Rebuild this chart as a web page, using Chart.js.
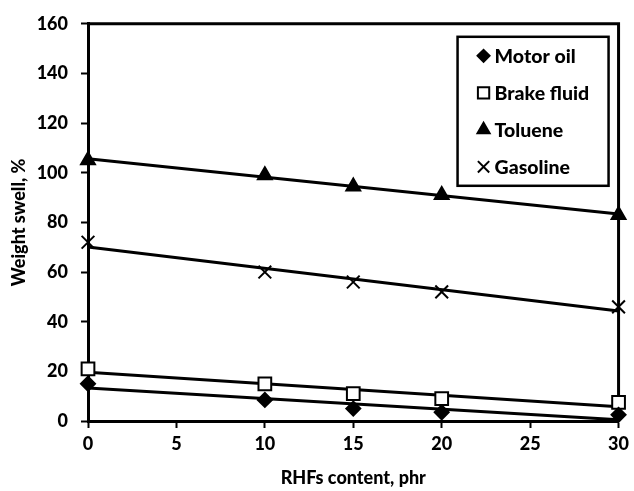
<!DOCTYPE html>
<html>
<head>
<meta charset="utf-8">
<script src="https://cdn.jsdelivr.net/npm/chart.js@4"></script>
<style>
  html, body { margin: 0; padding: 0; background: #fff; }
  #wrap { width: 634px; height: 491px; }
</style>
</head>
<body>
<div id="wrap"><canvas id="swellChart"></canvas></div>
<script>
// RHFs loading (phr) and weight swell (%) for each fluid
const rhfContent = [0, 10, 15, 20, 30];
const motorOil = [15, 8.5, 5, 3.5, 2.5];
const brakeFluid = [21, 15, 11, 9, 7.5];
const toluene = [105, 99, 94.5, 91, 83];
const gasoline = [72, 60, 56, 52, 46];
const yTicks = [0, 20, 40, 60, 80, 100, 120, 140, 160];
const xTicks = [0, 5, 10, 15, 20, 25, 30];

const fonts = 'Lato, "Open Sans", sans-serif';
const labelFont = { family: fonts, size: 18, weight: 900 };

// least squares line over the data
function trend(ys) {
    const n = rhfContent.length;
    const mx = rhfContent.reduce((a, b) => a + b, 0) / n;
    const my = ys.reduce((a, b) => a + b, 0) / n;
    let sxy = 0, sxx = 0;
    rhfContent.forEach((x, i) => { sxy += (x - mx) * (ys[i] - my); sxx += (x - mx) * (x - mx); });
    const k = sxy / sxx;
    const x0 = rhfContent[0], x1 = rhfContent[n - 1];
    return [{ x: x0, y: my + k * (x0 - mx) }, { x: x1, y: my + k * (x1 - mx) }];
}

const series = [
    { label: 'Motor oil', data: motorOil, style: 'rectRot', radius: 7, fill: '#000' },
    { label: 'Brake fluid', data: brakeFluid, style: 'rect', radius: 9, fill: '#fff' },
    { label: 'Toluene', data: toluene, style: 'triangle', radius: 8, fill: '#000' },
    { label: 'Gasoline', data: gasoline, style: 'crossRot', radius: 9, fill: '#000' }
];

const datasets = [];
series.forEach(s => {
    datasets.push({
        label: s.label + ' trend',
        data: trend(s.data),
        showLine: true,
        borderColor: '#000',
        borderWidth: 3,
        pointRadius: 0,
        clip: false,
        order: 2
    });
});
series.forEach(s => {
    datasets.push({
        label: s.label,
        data: s.data.map((v, i) => ({ x: rhfContent[i], y: v })),
        showLine: false,
        pointStyle: s.style,
        pointRadius: s.radius,
        pointBackgroundColor: s.fill,
        pointBorderColor: '#000',
        pointBorderWidth: 2,
        clip: false,
        order: 1
    });
});

// frame around the plot plus the boxed legend
const framePlugin = {
    id: 'frame',
    beforeDatasetsDraw(chart) {
        const { ctx, chartArea: a } = chart;
        ctx.save();
        ctx.strokeStyle = '#000';
        ctx.lineWidth = 3;
        ctx.beginPath();
        ctx.moveTo(a.left, a.top);
        ctx.lineTo(a.right, a.top);
        ctx.lineTo(a.right, a.bottom);
        ctx.stroke();
        ctx.restore();
    },
    afterDatasetsDraw(chart) {
        const { ctx, chartArea: a } = chart;
        ctx.save();
        const bx = a.right - 161, by = a.top + 13, bw = 151, bh = 149;
        ctx.fillStyle = '#fff';
        ctx.fillRect(bx, by, bw, bh);
        ctx.strokeStyle = '#000';
        ctx.lineWidth = 2.5;
        ctx.strokeRect(bx, by, bw, bh);
        ctx.font = '900 19.5px ' + fonts;
        ctx.textBaseline = 'middle';
        series.forEach((s, i) => {
            const y = by + 19 + i * 37;
            ctx.fillStyle = s.fill;
            ctx.strokeStyle = '#000';
            ctx.lineWidth = 2;
            Chart.helpers.drawPoint(ctx, { pointStyle: s.style, radius: s.radius - 1, rotation: 0, borderWidth: 2 }, bx + 26, y);
            ctx.fillStyle = '#000';
            ctx.fillText(s.label, bx + 37, y + 1);
        });
        ctx.restore();
    }
};

new Chart(document.getElementById('swellChart'), {
    type: 'scatter',
    data: { datasets: datasets },
    options: {
        responsive: true,
        maintainAspectRatio: false,
        animation: false,
        layout: { padding: { top: 20, right: 14, left: 0, bottom: 0 } },
        plugins: { legend: { display: false }, tooltip: { enabled: false } },
        scales: {
            x: {
                type: 'linear',
                min: 0, max: 30,
                afterBuildTicks: s => { s.ticks = xTicks.map(v => ({ value: v })); },
                afterFit: s => { s.height = 70; },
                grid: { drawOnChartArea: false, tickLength: 7, tickWidth: 2, tickColor: '#000' },
                border: { color: '#000', width: 3 },
                ticks: { color: '#000', font: labelFont, padding: 5, maxRotation: 0 },
                title: { display: true, text: 'RHFs content, phr', color: '#000', font: labelFont, padding: { top: 0, bottom: 2 } }
            },
            y: {
                min: 0, max: 160,
                afterBuildTicks: s => { s.ticks = yTicks.map(v => ({ value: v })); },
                afterFit: s => { s.width = 88; },
                grid: { drawOnChartArea: false, tickLength: 7, tickWidth: 2, tickColor: '#000' },
                border: { color: '#000', width: 3 },
                ticks: { color: '#000', font: labelFont, padding: 13 },
                title: { display: true, text: 'Weight swell, %', color: '#000', font: labelFont, padding: { top: 8, bottom: 0 } }
            }
        }
    },
    plugins: [framePlugin]
});
</script>
</body>
</html>
